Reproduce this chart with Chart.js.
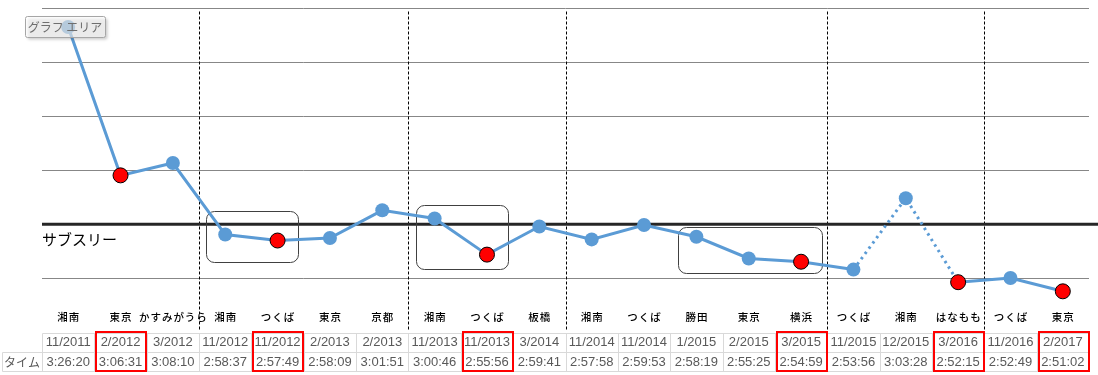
<!DOCTYPE html>
<html><head><meta charset="utf-8">
<script src="https://cdn.jsdelivr.net/npm/chart.js@4.4.0/dist/chart.umd.min.js"></script>
<style>html,body{margin:0;padding:0;background:#fff}#wrap{position:relative;width:1098px;height:375px}</style>
</head><body><div id="wrap"><canvas id="c"></canvas></div>
<script>
const locations = ['湘南','東京','かすみがうら','湘南','つくば','東京','京都','湘南','つくば','板橋','湘南','つくば','勝田','東京','横浜','つくば','湘南','はなもも','つくば','東京'];
const dates = ['11/2011','2/2012','3/2012','11/2012','11/2012','2/2013','2/2013','11/2013','11/2013','3/2014','11/2014','11/2014','1/2015','2/2015','3/2015','11/2015','12/2015','3/2016','11/2016','2/2017'];
const times = ['3:26:20','3:06:31','3:08:10','2:58:37','2:57:49','2:58:09','3:01:51','3:00:46','2:55:56','2:59:41','2:57:58','2:59:53','2:58:19','2:55:25','2:54:59','2:53:56','3:03:28','2:52:15','2:52:49','2:51:02'];
const personalBests = [1,4,8,14,17,19];
const seasonStarts = [3,7,10,15,18];
const dottedFrom = [15,16];
const subThree = '3:00:00';
const subThreeLabel = 'サブスリー';
const rowLabel = 'タイム';
const hoverLabel = 'グラフ エリア';
const gridTimes = ['2:52:48','3:00:00','3:07:12','3:14:24','3:21:36','3:28:48'];
const axisMin = '2:45:36';
const axisMax = '3:28:48';
const groupFrom = [3,7,12];
const groupTo = [4,8,14];
const groupTop = ['3:01:44','3:02:32','2:59:34'];
const groupBottom = ['2:54:56','2:54:00','2:53:26'];

const toSec = s => { const p = s.split(':').map(Number); return p[0]*3600 + p[1]*60 + p[2]; };
const isPB = i => personalBests.includes(i);

function roundRect(ctx, x, y, w, h, r) {
  ctx.beginPath();
  ctx.moveTo(x + r, y);
  ctx.lineTo(x + w - r, y); ctx.arcTo(x + w, y, x + w, y + r, r);
  ctx.lineTo(x + w, y + h - r); ctx.arcTo(x + w, y + h, x + w - r, y + h, r);
  ctx.lineTo(x + r, y + h); ctx.arcTo(x, y + h, x, y + h - r, r);
  ctx.lineTo(x, y + r); ctx.arcTo(x, y, x + r, y, r);
  ctx.closePath();
}

const decor = {
  id: 'decor',
  beforeDatasetsDraw(chart) {
    const ctx = chart.ctx, xs = chart.scales.x, ys = chart.scales.y, ca = chart.chartArea;
    const col = xs.getPixelForValue(1) - xs.getPixelForValue(0);
    ctx.save();
    ctx.strokeStyle = '#000'; ctx.lineWidth = 1; ctx.setLineDash([3, 2]);
    seasonStarts.forEach(i => {
      const x = Math.round(xs.getPixelForValue(i) - col / 2) + 0.5;
      ctx.beginPath(); ctx.moveTo(x, ca.top + 3); ctx.lineTo(x, ca.bottom - 2); ctx.stroke();
    });
    ctx.setLineDash([]);
    const y3 = ys.getPixelForValue(toSec(subThree));
    ctx.strokeStyle = '#262626'; ctx.lineWidth = 3;
    ctx.beginPath(); ctx.moveTo(ca.left, y3); ctx.lineTo(chart.width, y3); ctx.stroke();
    ctx.fillStyle = '#000'; ctx.font = '15px "Noto Sans CJK JP"'; ctx.textBaseline = 'middle'; ctx.textAlign = 'left';
    ctx.fillText(subThreeLabel, ca.left, y3 + 15);
    ctx.strokeStyle = '#404040'; ctx.lineWidth = 1;
    groupFrom.forEach((f, k) => {
      const x1 = xs.getPixelForValue(f) - col * 0.36;
      const x2 = xs.getPixelForValue(groupTo[k]) + col * 0.4;
      const y1 = ys.getPixelForValue(toSec(groupTop[k]));
      const y2 = ys.getPixelForValue(toSec(groupBottom[k]));
      roundRect(ctx, Math.round(x1) + 0.5, Math.round(y1) + 0.5, Math.round(x2 - x1), Math.round(y2 - y1), 8);
      ctx.stroke();
    });
    ctx.restore();
  },
  afterDraw(chart) {
    const ctx = chart.ctx, xs = chart.scales.x;
    const col = xs.getPixelForValue(1) - xs.getPixelForValue(0);
    const left = xs.getPixelForValue(0) - col / 2;
    const right = xs.getPixelForValue(locations.length - 1) + col / 2;
    ctx.save();
    ctx.fillStyle = '#000'; ctx.textAlign = 'center'; ctx.textBaseline = 'middle';
    ctx.font = '500 10.5px "Noto Sans CJK JP"';
    ctx.letterSpacing = '1px';
    locations.forEach((l, i) => ctx.fillText(l, xs.getPixelForValue(i) + 0.5, 317));
    ctx.letterSpacing = '0px';
    const t0 = 333.5, t1 = 352.5, t2 = 371.5;
    ctx.strokeStyle = '#d9d9d9'; ctx.lineWidth = 1;
    ctx.beginPath();
    ctx.moveTo(Math.round(left) + 0.5, t0); ctx.lineTo(Math.round(right) + 0.5, t0);
    ctx.moveTo(2.5, t1); ctx.lineTo(Math.round(right) + 0.5, t1);
    ctx.moveTo(2.5, t2); ctx.lineTo(Math.round(right) + 0.5, t2);
    ctx.moveTo(2.5, t1); ctx.lineTo(2.5, t2);
    for (let i = 0; i <= locations.length; i++) {
      const x = Math.round(left + col * i) + 0.5;
      ctx.moveTo(x, t0); ctx.lineTo(x, t2);
    }
    ctx.stroke();
    ctx.fillStyle = '#595959'; ctx.font = '13px "Liberation Sans", Arial, sans-serif';
    dates.forEach((d, i) => ctx.fillText(d, xs.getPixelForValue(i), 342.5));
    times.forEach((t, i) => ctx.fillText(t, xs.getPixelForValue(i), 362));
    ctx.font = '12px "Noto Sans CJK JP"';
    ctx.fillText(rowLabel, (2 + left) / 2, 362);
    ctx.strokeStyle = '#ff0000'; ctx.lineWidth = 2;
    personalBests.forEach(i => {
      const bl = xs.getPixelForValue(i) - col / 2;
      ctx.strokeRect(Math.round(bl) + 2, 332, Math.round(col) - 2, 39);
    });
    ctx.shadowColor = 'rgba(0,0,0,0.35)'; ctx.shadowBlur = 3; ctx.shadowOffsetX = 2; ctx.shadowOffsetY = 2;
    ctx.fillStyle = 'rgba(255,255,255,0.6)';
    roundRect(ctx, 25.5, 16.5, 80, 21, 2); ctx.fill();
    ctx.shadowColor = 'transparent';
    ctx.strokeStyle = '#a6a6a6'; ctx.lineWidth = 1; ctx.stroke();
    ctx.fillStyle = '#6e6e6e'; ctx.font = '12px "Noto Sans CJK JP"';
    ctx.fillText(hoverLabel, 65, 27);
    ctx.restore();
  }
};

new Chart(document.getElementById('c'), {
  type: 'line',
  data: {
    labels: locations,
    datasets: [{
      data: times.map(toSec),
      borderColor: '#5b9bd5',
      borderWidth: 3,
      tension: 0,
      clip: false,
      pointRadius: c => isPB(c.dataIndex) ? 7.5 : 7,
      pointBackgroundColor: c => isPB(c.dataIndex) ? '#ff0000' : '#5b9bd5',
      pointBorderColor: c => isPB(c.dataIndex) ? '#000' : '#5b9bd5',
      pointBorderWidth: c => isPB(c.dataIndex) ? 1 : 0,
      segment: { borderDash: c => dottedFrom.includes(c.p0DataIndex) ? [2.5, 4] : undefined }
    }]
  },
  options: {
    responsive: true, maintainAspectRatio: false, animation: false, events: [],
    layout: { padding: { left: 42, top: 8, right: 9, bottom: 43 } },
    plugins: { legend: { display: false }, tooltip: { enabled: false } },
    scales: {
      x: { type: 'category', display: false, offset: true },
      y: {
        min: toSec(axisMin), max: toSec(axisMax),
        ticks: { display: false },
        grid: { color: '#878787', lineWidth: 1, drawTicks: false, tickLength: 0 },
        border: { display: false },
        afterBuildTicks: s => { s.ticks = gridTimes.map(t => ({ value: toSec(t) })); }
      }
    }
  },
  plugins: [decor]
});
</script></body></html>
